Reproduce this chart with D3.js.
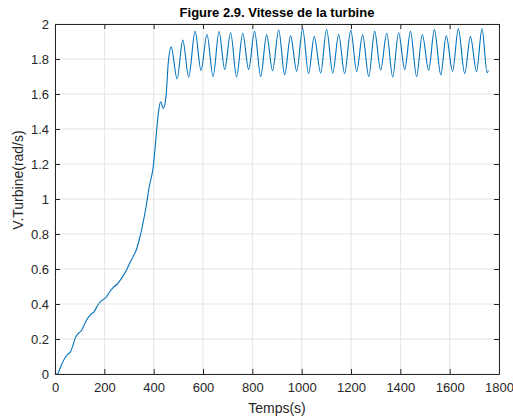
<!DOCTYPE html>
<html>
<head>
<meta charset="utf-8">
<script src="https://cdn.jsdelivr.net/npm/d3@7"></script>
<style>
  body { margin: 0; background: #fff; }
  svg { display: block; font-family: "Liberation Sans", Arial, sans-serif; }
</style>
</head>
<body>
<div id="chart"></div>
<script>
// turbine speed (time in s, speed in rad/s)
var timeSec = [0, 10, 20, 30, 40, 50, 62, 72, 82, 95, 108, 120, 132, 145, 158, 170, 182, 195, 208,
  222, 236, 250, 264, 278, 292, 305, 318, 330, 342, 352, 362, 372, 382, 390, 398, 405, 419, 428, 439, 450, 459,
  471, 495, 518, 542, 568, 592, 616, 641, 665, 688, 712, 736, 761, 785, 809, 834, 858, 882, 907, 931, 955,
  980, 1004, 1028, 1051, 1077, 1101, 1126, 1150, 1174, 1199, 1223, 1247, 1272, 1296, 1320, 1345, 1369,
  1393, 1418, 1441, 1466, 1489, 1515, 1538, 1564, 1586, 1612, 1635, 1661, 1684, 1709, 1731, 1752, 1757];
var speed = [0, 0, 0.03, 0.065, 0.09, 0.11, 0.125, 0.16, 0.205, 0.232, 0.25, 0.285, 0.318, 0.34, 0.355, 0.385, 0.41, 0.425, 0.44,
  0.47, 0.495, 0.51, 0.535, 0.565, 0.6, 0.64, 0.675, 0.71, 0.77, 0.83, 0.9, 0.98, 1.07, 1.12, 1.18, 1.28, 1.49, 1.556, 1.518, 1.585, 1.775,
  1.868, 1.686, 1.908, 1.698, 1.958, 1.735, 1.94, 1.70, 1.957, 1.74, 1.95, 1.698, 1.947, 1.74, 1.958, 1.70, 1.938, 1.734, 1.966, 1.71, 1.932,
  1.73, 1.972, 1.717, 1.928, 1.72, 1.97, 1.72, 1.94, 1.717, 1.966, 1.728, 1.938, 1.70, 1.958, 1.736, 1.947, 1.698,
  1.95, 1.74, 1.958, 1.70, 1.94, 1.736, 1.968, 1.71, 1.932, 1.73, 1.972, 1.717, 1.928, 1.728, 1.972, 1.722, 1.735];

var xTicks = d3.range(0, 1801, 200);
var yTicks = [0, 0.2, 0.4, 0.6, 0.8, 1, 1.2, 1.4, 1.6, 1.8, 2];

var data = timeSec.map((t, i) => ({t: t, v: speed[i]}));

// set the dimensions and margins of the graph
var margin = {top: 24, right: 14, bottom: 45, left: 55},
  width = 513 - margin.left - margin.right,
  height = 419 - margin.top - margin.bottom;

var root = d3.select("#chart")
  .append("svg")
  .attr("width", 513)
  .attr("height", 419);

var svg = root.append("g")
  .attr("transform", "translate(" + margin.left + "," + margin.top + ")");

const x = d3.scaleLinear().domain([0, 1800]).range([0, width]);
const y = d3.scaleLinear().domain([0, 2]).range([height, 0]);

const axisColor = "#262626";

// grid
svg.append("g").selectAll("line.gx")
  .data(xTicks)
  .join("line")
    .attr("x1", d => x(d)).attr("x2", d => x(d))
    .attr("y1", 0).attr("y2", height)
    .attr("stroke", "#e3e3e3");
svg.append("g").selectAll("line.gy")
  .data(yTicks)
  .join("line")
    .attr("x1", 0).attr("x2", width)
    .attr("y1", d => y(d)).attr("y2", d => y(d))
    .attr("stroke", "#e3e3e3");

// curve
const line = d3.line()
  .x(d => x(d.t))
  .y(d => y(d.v))
  .curve(d3.curveMonotoneX);

svg.append("path")
  .datum(data)
  .attr("fill", "none")
  .attr("stroke", "#0072BD")
  .attr("stroke-width", 1.1)
  .attr("d", line);

// axes (ticks inside, box on)
const styleAxis = g => {
  g.select(".domain").attr("stroke", axisColor);
  g.selectAll(".tick line").attr("stroke", axisColor);
  g.selectAll(".tick text").attr("fill", axisColor).attr("font-size", 13);
  g.attr("font-family", null);
};

svg.append("g")
  .attr("transform", "translate(0," + height + ")")
  .call(d3.axisBottom(x).tickValues(xTicks).tickFormat(d3.format("d")).tickSizeInner(-5).tickSizeOuter(0).tickPadding(9))
  .call(styleAxis);
svg.append("g")
  .call(d3.axisTop(x).tickValues(xTicks).tickFormat("").tickSizeInner(-5).tickSizeOuter(0))
  .call(styleAxis);
svg.append("g")
  .call(d3.axisLeft(y).tickValues(yTicks).tickFormat(d3.format("~g")).tickSizeInner(-5).tickSizeOuter(0).tickPadding(6))
  .call(styleAxis);
svg.append("g")
  .attr("transform", "translate(" + width + ",0)")
  .call(d3.axisRight(y).tickValues(yTicks).tickFormat("").tickSizeInner(-5).tickSizeOuter(0))
  .call(styleAxis);

// labels
root.append("text")
  .attr("x", margin.left + width / 2)
  .attr("y", 17)
  .attr("text-anchor", "middle")
  .attr("font-size", 13)
  .attr("font-weight", "bold")
  .attr("fill", "#000")
  .text("Figure 2.9. Vitesse de la turbine");

root.append("text")
  .attr("x", margin.left + width / 2)
  .attr("y", 413)
  .attr("text-anchor", "middle")
  .attr("font-size", 14)
  .attr("fill", axisColor)
  .text("Temps(s)");

root.append("text")
  .attr("transform", "translate(23," + 180 + ")rotate(-90)")
  .attr("text-anchor", "middle")
  .attr("font-size", 14)
  .attr("fill", axisColor)
  .text("V.Turbine(rad/s)");
</script>
</body>
</html>
